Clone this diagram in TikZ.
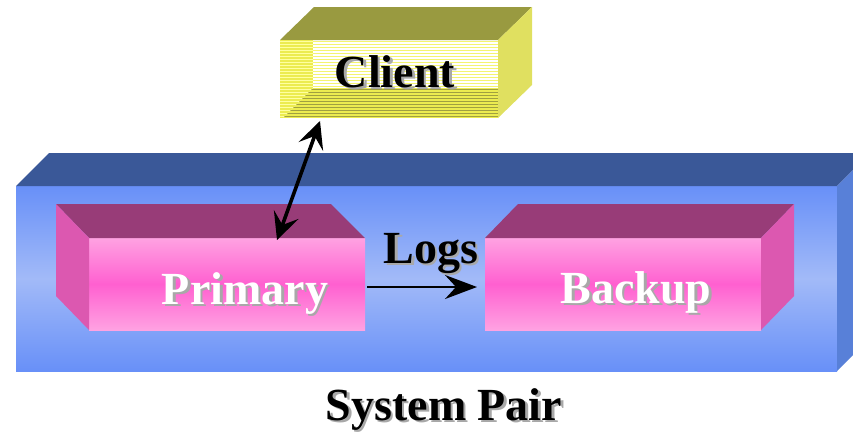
\documentclass[tikz,border=0pt]{standalone}
\usepackage{fontspec}
\setmainfont{Liberation Serif}
\usetikzlibrary{arrows.meta}
\definecolor{bigtop}{HTML}{3A5898}
\definecolor{bigedge}{HTML}{6890F8}
\definecolor{bigmid}{HTML}{A2BAF8}
\definecolor{bigright}{HTML}{5880D8}
\definecolor{pinktop}{HTML}{983C78}
\definecolor{pinkside}{HTML}{DC58B0}
\definecolor{pinkedge}{HTML}{FFA2E2}
\definecolor{pinkmid}{HTML}{FF60D0}
\definecolor{cltop}{HTML}{999A40}
\definecolor{clright}{HTML}{E0E060}
\definecolor{clyel}{HTML}{ECEC50}
\definecolor{clpale}{HTML}{FFFFA0}
\definecolor{clline}{HTML}{F4F470}
\definecolor{clolive}{HTML}{A0A040}
\definecolor{shgray}{HTML}{A8A8A8}
\newcommand{\shtext}[3]{\leavevmode\rlap{\kern2.5pt\raisebox{-2.5pt}{\textcolor{#1}{#3}}}\textcolor{#2}{#3}}
\tikzset{
  face/.style={inner sep=0pt, outer sep=0pt, draw=none},
  lbl/.style={inner sep=0pt, anchor=base, font=\bfseries\fontsize{46}{50}\selectfont},
  arr/.style={line width=3.6pt, {Stealth[length=27pt,width=26pt,inset=11pt]}-{Stealth[length=27pt,width=26pt,inset=11pt]}},
  logarr/.style={line width=2.4pt, -{Stealth[length=32pt,width=24pt,inset=11pt]}}
}
\begin{document}
\begin{tikzpicture}[x=1pt,y=-1pt]
\useasboundingbox (0,0) rectangle (853,437);
\clip (0,0) rectangle (853,437);

% System pair big box
\node[face, minimum width=821pt, minimum height=185pt, top color=bigedge, bottom color=bigedge, middle color=bigmid] (sys) at (426.5,278.5) {};
\fill[bigtop] (sys.north west) -- ++(33,-33) -- ++(821,0) -- (sys.north east) -- cycle;
\fill[bigright] (sys.north east) -- ++(33,-33) -- ++(0,185) -- (sys.south east) -- cycle;

% Primary
\node[face, minimum width=276pt, minimum height=92pt, top color=pinkedge, bottom color=pinkedge, middle color=pinkmid] (prim) at (227,284) {};
\fill[pinktop] (prim.north west) -- ++(-33,-34) -- ++(275,0) -- (prim.north east) -- cycle;
\fill[pinkside] (prim.north west) -- ++(-33,-34) -- ++(0,92) -- (prim.south west) -- cycle;

% Backup
\node[face, minimum width=276pt, minimum height=92pt, top color=pinkedge, bottom color=pinkedge, middle color=pinkmid] (back) at (623,284) {};
\fill[pinktop] (back.north west) -- ++(33,-34) -- ++(276,0) -- (back.north east) -- cycle;
\fill[pinkside] (back.north east) -- ++(33,-34) -- ++(0,92) -- (back.south east) -- cycle;

% Client
\node[face, minimum width=218pt, minimum height=78pt, fill=white] (client) at (389,79) {};
\fill[cltop] (client.north west) -- ++(34,-33) -- ++(218,0) -- (client.north east) -- cycle;
\fill[clright] (client.north east) -- ++(34,-33) -- ++(0,78) -- (client.south east) -- cycle;
\begin{scope}
  \clip (280,40) -- (313,40) -- (313,88) -- (280,121) -- cycle;
  \fill[clyel] (280,40) rectangle (313,118);
  \foreach \yy in {41.5,44.5,...,119} \draw[clpale, line width=1.2pt] (280,\yy) -- (313,\yy);
\end{scope}
\begin{scope}
  \clip (313,40) rectangle (498,88);
  \foreach \yy in {41.5,44.5,...,89} \draw[clline, line width=1.1pt] (313,\yy) -- (498,\yy);
\end{scope}
\begin{scope}
  \clip (313,88) -- (498,88) -- (498,118) -- (280,118) -- (280,121) -- cycle;
  \fill[clyel] (280,88) rectangle (498,118);
  \foreach \yy in {89.5,92.5,...,119} \draw[clolive, line width=1.4pt] (280,\yy) -- (498,\yy);
\end{scope}

% Labels
\node[lbl] (tclient) at (395,87) {\shtext{shgray}{black}{Client}};
\node[lbl] (tprim) at (245,304) {\shtext{shgray}{white}{Primary}};
\node[lbl] (tback) at (636,303) {\shtext{shgray}{white}{Backup}};
\node[lbl] (tlogs) at (431,263) {\shtext{shgray}{black}{Logs}};
\node[lbl] (tsys) at (444,420) {\shtext{shgray}{black}{System Pair}};

% Connectors
\coordinate (ca) at (320,121);
\coordinate (pa) at (277,240);
\draw[arr] (ca) -- (pa);
\coordinate (la) at (367,287);
\coordinate (lb) at (477,287);
\draw[logarr] (la) -- (lb);
\end{tikzpicture}
\end{document}
